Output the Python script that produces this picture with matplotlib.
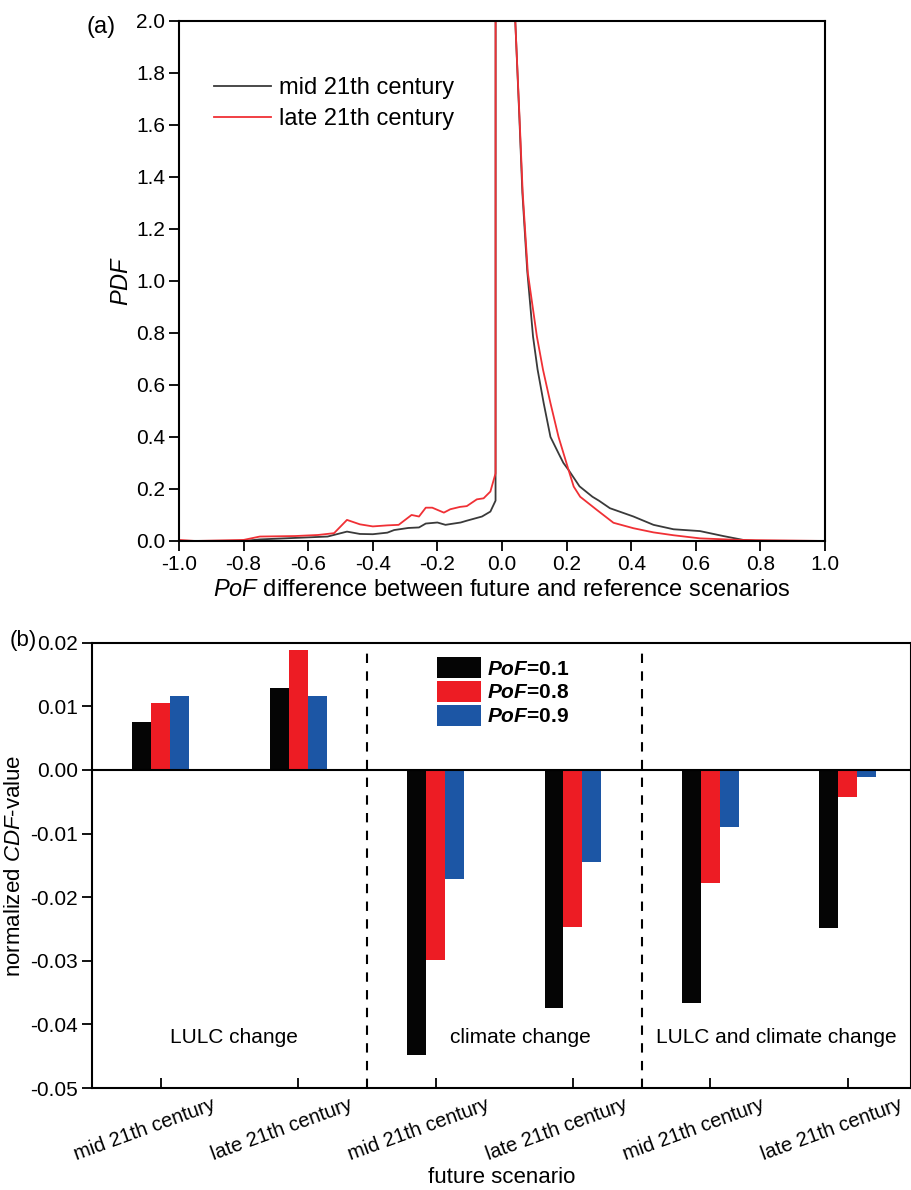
import numpy as np
import matplotlib.pyplot as plt

plt.rcParams['font.family'] = ['Liberation Sans', 'DejaVu Sans']
plt.rcParams['mathtext.fontset'] = 'custom'
plt.rcParams['mathtext.rm'] = 'Liberation Sans'
plt.rcParams['mathtext.it'] = 'Liberation Sans:italic'
plt.rcParams['mathtext.bf'] = 'Liberation Sans:bold'
plt.rcParams['mathtext.bfit'] = 'Liberation Sans:italic:bold'
plt.rcParams['axes.unicode_minus'] = False

# ---- (a) PDF of PoF difference ----
mid_x = [-1.0, -0.8, -0.75, -0.54, -0.48, -0.44, -0.40, -0.355, -0.334, -0.29,
         -0.257, -0.236, -0.20, -0.175, -0.16, -0.128, -0.109, -0.062, -0.036,
         -0.02, -0.019, 0.0, 0.02, 0.03, 0.041, 0.054, 0.063, 0.078, 0.096,
         0.110, 0.129, 0.150, 0.175, 0.19, 0.206, 0.24, 0.28, 0.30, 0.334,
         0.407, 0.469, 0.531, 0.613, 0.685, 0.747, 0.788, 1.0]
mid_pdf = [0.0, 0.0, 0.006, 0.017, 0.036, 0.027, 0.026, 0.032, 0.042, 0.050,
           0.052, 0.067, 0.071, 0.062, 0.065, 0.071, 0.078, 0.094, 0.113,
           0.155, 12.0, 12.0, 12.0, 8.0, 2.0, 1.62, 1.34, 1.04, 0.786,
           0.66, 0.53, 0.40, 0.337, 0.30, 0.273, 0.21, 0.17, 0.155, 0.126,
           0.094, 0.062, 0.045, 0.038, 0.019, 0.004, 0.0, 0.0]

late_x = [-1.0, -0.95, -0.8, -0.75, -0.64, -0.57, -0.52, -0.48, -0.44, -0.40,
          -0.355, -0.32, -0.28, -0.257, -0.236, -0.216, -0.18, -0.16, -0.13,
          -0.109, -0.078, -0.057, -0.036, -0.02, -0.019, 0.0, 0.02, 0.03,
          0.041, 0.0545, 0.064, 0.08, 0.108, 0.127, 0.15, 0.175, 0.206, 0.222,
          0.242, 0.294, 0.345, 0.407, 0.469, 0.531, 0.613, 0.737, 1.0]
late_pdf = [0.004, 0.0, 0.004, 0.017, 0.019, 0.023, 0.030, 0.081, 0.064, 0.056,
            0.060, 0.062, 0.100, 0.094, 0.128, 0.128, 0.109, 0.122, 0.131,
            0.134, 0.160, 0.164, 0.190, 0.260, 12.0, 12.0, 12.0, 8.0,
            2.0, 1.62, 1.34, 1.03, 0.786, 0.658, 0.53, 0.40, 0.273, 0.209,
            0.17, 0.119, 0.070, 0.049, 0.033, 0.022, 0.010, 0.004, 0.0]

# ---- (b) normalized CDF values ----
scenarios = ['mid 21th century', 'late 21th century'] * 3
pof_01 = [0.0076, 0.0129, -0.0448, -0.0374, -0.0367, -0.0248]
pof_08 = [0.0105, 0.0189, -0.0298, -0.0247, -0.0178, -0.0043]
pof_09 = [0.0117, 0.0117, -0.0172, -0.0145, -0.0089, -0.0011]
groups = ['LULC change', 'climate change', 'LULC and climate change']
group_x = [0.53, 2.62, 4.48]

fig = plt.figure(figsize=(9.12, 11.9), dpi=100)

# ---------------- panel (a) ----------------
ax1 = fig.add_axes([0.1963, 0.5454, 0.7083, 0.4372])
ax1.plot(mid_x, mid_pdf, color='#3a3a3a', lw=1.3, label='mid 21th century')
ax1.plot(late_x, late_pdf, color='#f03035', lw=1.3, label='late 21th century')
ax1.set_xlim(-1, 1)
ax1.set_ylim(0, 2)
xt = np.round(np.arange(-1.0, 1.01, 0.2), 1)
ax1.set_xticks(xt)
ax1.set_xticklabels(['%.1f' % (v + 0.0) for v in xt])
yt = np.round(np.arange(0, 2.01, 0.2), 1)
ax1.set_yticks(yt)
ax1.set_yticklabels(['%.1f' % v for v in yt])
ax1.tick_params(direction='out', length=7, width=1.3, labelsize=15, pad=3)
for s in ax1.spines.values():
    s.set_linewidth(1.5)
ax1.set_xlabel('$PoF$ difference between future and reference scenarios', fontsize=17, labelpad=4)
ax1.set_ylabel('$PDF$', fontsize=17, labelpad=2)
ax1.legend(loc='upper left', bbox_to_anchor=(0.054, 0.892), frameon=False,
           fontsize=17, handlelength=2.4, handletextpad=0.35, labelspacing=0.4,
           borderpad=0, borderaxespad=0)
fig.text(0.111, 0.977, '(a)', fontsize=17, ha='center', va='center')

# ---------------- panel (b) ----------------
ax2 = fig.add_axes([0.1009, 0.0857, 0.898, 0.3742])
idx = np.arange(len(scenarios))
w = 0.138
ax2.bar(idx - w, pof_01, w, color='#050505', label=r'$\bfit{PoF}$=0.1')
ax2.bar(idx, pof_08, w, color='#ed1c24', label=r'$\bfit{PoF}$=0.8')
ax2.bar(idx + w, pof_09, w, color='#1c56a5', label=r'$\bfit{PoF}$=0.9')
ax2.axhline(0, color='k', lw=1.5)
for xv in [1.5, 3.5]:
    ax2.axvline(xv, ymin=0, ymax=0.98, color='k', lw=1.5, ls=(0, (4.5, 4)))
for gx, g in zip(group_x, groups):
    ax2.text(gx, -0.042, g, ha='center', va='center', fontsize=15)
ax2.set_xlim(-0.5, 5.46)
ax2.set_ylim(-0.05, 0.02)
ytb = np.round(np.arange(-0.05, 0.021, 0.01), 2)
ax2.set_yticks(ytb)
ax2.set_yticklabels(['%.2f' % (v + 0.0) for v in ytb], fontsize=15)
# tick marks at the bars, labels shifted slightly left as in the original
ax2.set_xticks(idx)
ax2.set_xticklabels([])
ax2.set_xticks(idx - 0.12, minor=True)
ax2.set_xticklabels(scenarios, minor=True, rotation=20, ha='center', fontsize=14.5)
ax2.tick_params(axis='x', which='major', direction='in', length=7, width=1.3)
ax2.tick_params(axis='x', which='minor', length=0, pad=5)
ax2.tick_params(axis='y', direction='out', length=7, width=1.3, pad=3)
for s in ax2.spines.values():
    s.set_linewidth(1.5)
ax2.set_xlabel('future scenario', fontsize=16, labelpad=2)
ax2.set_ylabel('normalized $CDF$-value', fontsize=16, labelpad=4)
ax2.legend(loc='upper left', bbox_to_anchor=(0.421, 0.968), frameon=False,
           prop={'size': 15, 'weight': 'bold'}, handlelength=2.1,
           handleheight=1.2, handletextpad=0.3, labelspacing=0.1,
           borderpad=0, borderaxespad=0)
fig.text(0.026, 0.462, '(b)', fontsize=16, ha='center', va='center')

fig.savefig('out.png', dpi=100)
